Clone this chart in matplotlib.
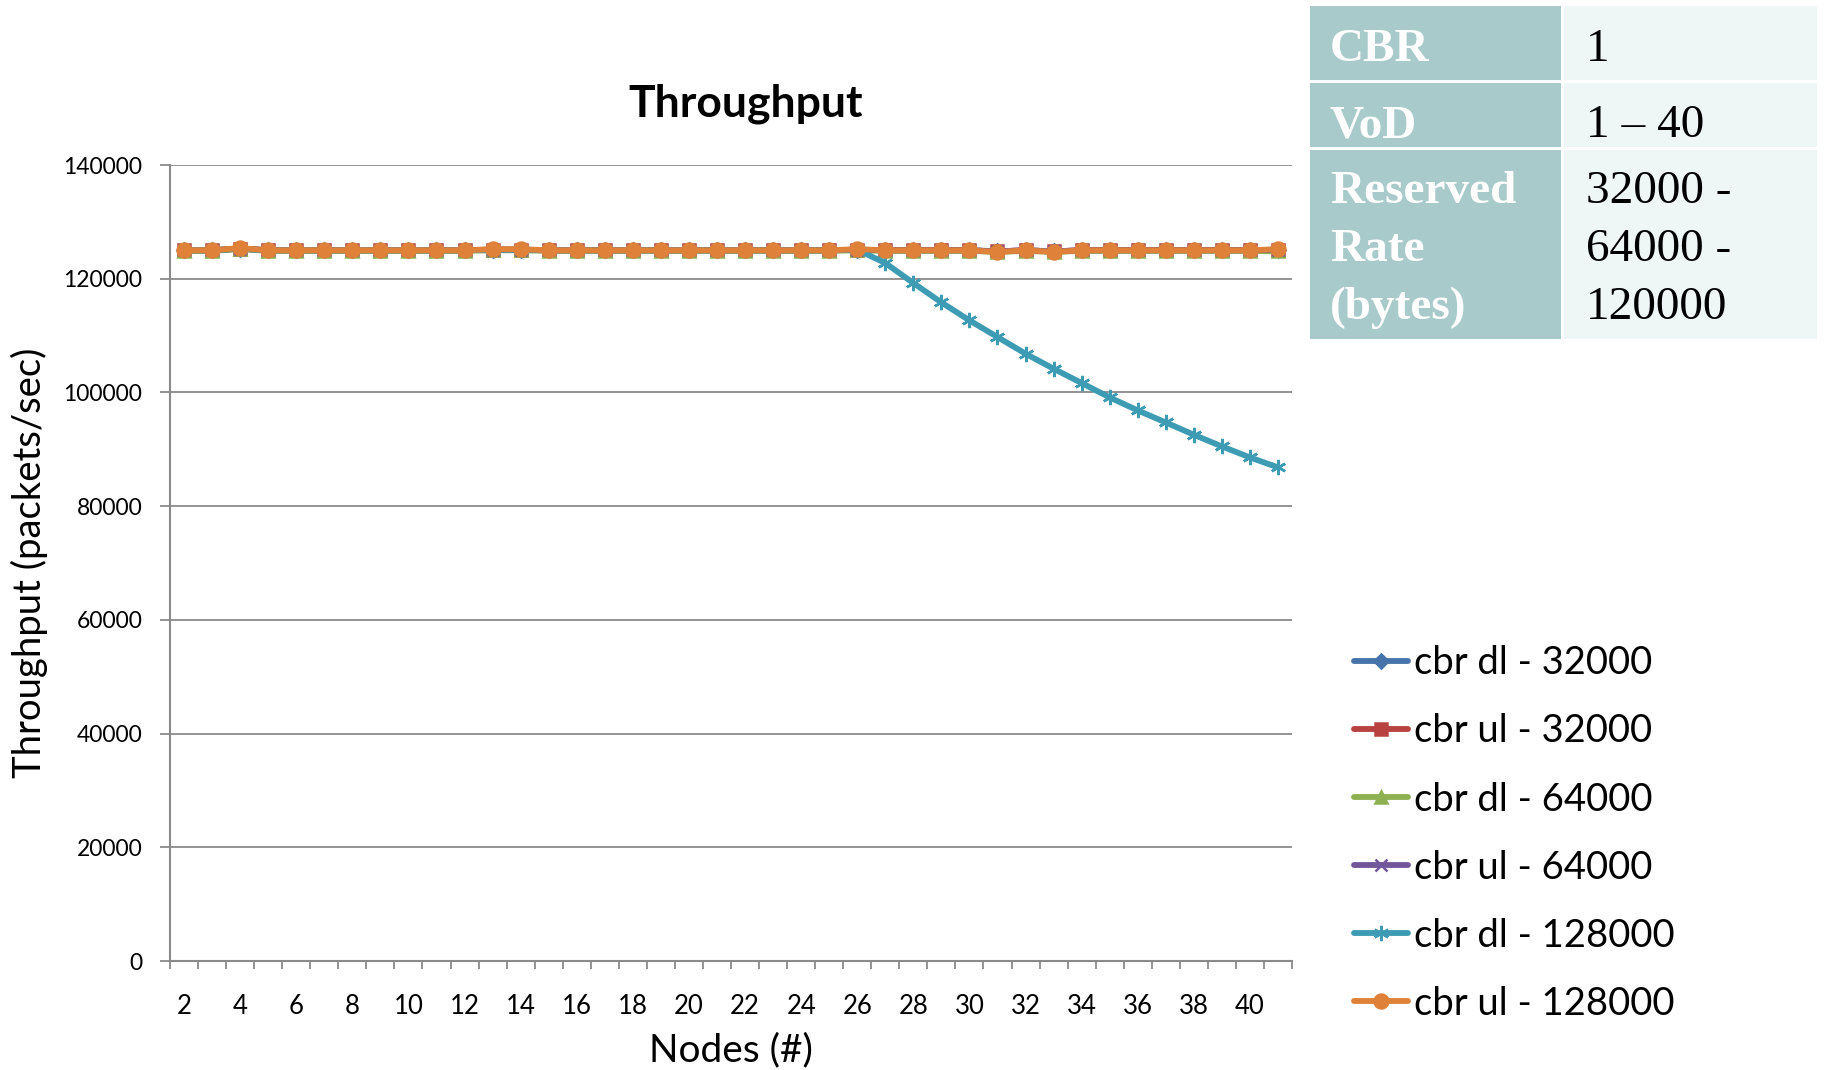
import matplotlib
matplotlib.use("Agg")
import matplotlib.pyplot as plt
from matplotlib.patches import Rectangle

# ---- data -------------------------------------------------------------
nodes = list(range(2, 42))

cbr_dl_32000 = [125000, 125000, 125300, 125000, 125000, 125000, 125000, 125000,
                125000, 125000, 125000, 125100, 125100, 125000, 125000, 125000,
                125000, 125000, 125000, 125000, 125000, 125000, 125000, 125000,
                125100, 125000, 125000, 125000, 125000, 124800, 125000, 124800,
                125000, 125000, 125000, 125000, 125000, 125000, 125000, 125100]
cbr_ul_32000 = [125000, 125000, 125300, 125000, 125000, 125000, 125000, 125000,
                125000, 125000, 125000, 125100, 125100, 125000, 125000, 125000,
                125000, 125000, 125000, 125000, 125000, 125000, 125000, 125000,
                125100, 125000, 125000, 125000, 125000, 124800, 125000, 124800,
                125000, 125000, 125000, 125000, 125000, 125000, 125000, 125100]
cbr_dl_64000 = [124900, 124900, 125200, 124900, 124900, 124900, 124900, 124900,
                124900, 124900, 124900, 125000, 125000, 124900, 124900, 124900,
                124900, 124900, 124900, 124900, 124900, 124900, 124900, 124900,
                125000, 124900, 124900, 124900, 124900, 124700, 124900, 124700,
                124900, 124900, 124900, 124900, 124900, 124900, 124900, 124800]
cbr_ul_64000 = [125000, 125000, 125300, 125000, 125000, 125000, 125000, 125000,
                125000, 125000, 125000, 125100, 125100, 125000, 125000, 125000,
                125000, 125000, 125000, 125000, 125000, 125000, 125000, 125000,
                125100, 125000, 125000, 125000, 125000, 124800, 125000, 124800,
                125000, 125000, 125000, 125000, 125000, 125000, 125000, 125100]
cbr_dl_128000 = [125000, 125000, 125300, 125000, 125000, 125000, 125000, 125000,
                 125000, 125000, 125000, 125100, 125100, 125000, 125000, 125000,
                 125000, 125000, 125000, 125000, 125000, 125000, 125000, 125000,
                 125100, 122760, 119240, 115830, 112670, 109740, 106810, 104170,
                 101650, 99120, 96830, 94720, 92560, 90500, 88570, 86810]
cbr_ul_128000 = [125000, 125000, 125400, 125000, 125000, 125000, 125000, 125000,
                 125000, 125000, 125000, 125200, 125200, 125000, 125000, 125000,
                 125000, 125000, 125000, 125000, 125000, 125000, 125000, 125000,
                 125200, 125000, 125000, 125000, 125000, 124700, 125000, 124700,
                 125000, 125000, 125000, 125000, 125000, 125000, 125000, 125200]

series_labels = ["cbr dl - 32000", "cbr ul - 32000", "cbr dl - 64000",
                 "cbr ul - 64000", "cbr dl - 128000", "cbr ul - 128000"]
series_values = [cbr_dl_32000, cbr_ul_32000, cbr_dl_64000,
                 cbr_ul_64000, cbr_dl_128000, cbr_ul_128000]

x_tick_labels = [str(n) for n in range(2, 41, 2)]
y_ticks = [0, 20000, 40000, 60000, 80000, 100000, 120000, 140000]

table_keys = [["CBR"], ["VoD"], ["Reserved", "Rate", "(bytes)"]]
table_vals = [["1"], ["1 \u2013 40"], ["32000 -", "64000 -", "120000"]]

# ---- styling ----------------------------------------------------------
colors = ["#4673AA", "#B7423F", "#8DB150", "#72579B", "#3E9BB4", "#E0813A"]
markers = ["D", "s", "^", "x", (6, 2, 0), "o"]
msizes = [7, 8, 9, 9, 11, 10]
SANS = ["Lato", "DejaVu Sans"]
GRID = "#8A8A8A"

W, H = 1825, 1070
fig = plt.figure(figsize=(W / 100, H / 100), dpi=100)

# plot area in pixel coordinates
x0, x1, ytop, ybot = 170, 1292, 165, 961
ax = fig.add_axes([x0 / W, 1 - ybot / H, (x1 - x0) / W, (ybot - ytop) / H])

for vals, lab, col, mk, ms in zip(series_values, series_labels, colors, markers, msizes):
    ax.plot(nodes, vals, color=col, lw=4.2, marker=mk, ms=ms,
            markerfacecolor=col, markeredgecolor=col, mew=1.8, label=lab,
            solid_capstyle="round")

ax.set_xlim(1.5, 41.5)
ax.set_ylim(0, 140000)
ax.set_xticks([n + 0.5 for n in range(1, 42)])
ax.set_xticklabels([])
ax.set_xticks(list(range(2, 41, 2)), minor=True)
ax.set_xticklabels(x_tick_labels, minor=True, fontsize=18.5, family=SANS)
ax.tick_params(axis="x", which="major", direction="out", length=6, width=1.3, color=GRID)
ax.tick_params(axis="x", which="minor", length=0, pad=24)

ax.set_yticks(y_ticks)
ax.set_yticklabels([str(v) for v in y_ticks], fontsize=16.5, family=SANS)
ax.tick_params(axis="y", direction="out", length=7, width=1.3, color=GRID, pad=13)

ax.grid(axis="y", color=GRID, lw=1.3)
ax.set_axisbelow(True)
for s in ["top", "right"]:
    ax.spines[s].set_visible(False)
for s in ["left", "bottom"]:
    ax.spines[s].set_color(GRID)
    ax.spines[s].set_linewidth(1.5)

fig.text(746 / W, 1 - 104 / H, "Throughput", ha="center", va="center",
         fontsize=32, fontweight="bold", family=SANS)
fig.text(731 / W, 1 - 1050 / H, "Nodes (#)", ha="center", va="center",
         fontsize=28, family=SANS)
fig.text(29 / W, 1 - 563 / H, "Throughput (packets/sec)", ha="center", va="center",
         rotation=90, fontsize=27.5, family=SANS)

leg = fig.legend(loc="upper left", bbox_to_anchor=(1320 / W, 1 - 611 / H),
                 frameon=False, handlelength=1.4, handletextpad=0.15,
                 labelspacing=0.84, numpoints=1, prop={"family": SANS, "size": 27.5})

# ---- parameter table --------------------------------------------------
tab = fig.add_axes([0, 0, 1, 1], zorder=-1)
tab.set_xlim(0, W)
tab.set_ylim(H, 0)
tab.axis("off")
row_edges = [(6, 80), (83, 147), (150, 339)]
key_col = (1310, 1561)
val_col = (1564, 1817)
key_color = "#A9CACA"
val_color = "#EFF6F6"
first_baselines = [61, 137, 203]
line_step = 58
for (r0, r1), keys, vals, bl in zip(row_edges, table_keys, table_vals, first_baselines):
    tab.add_patch(Rectangle((key_col[0], r0), key_col[1] - key_col[0], r1 - r0,
                            facecolor=key_color, edgecolor="none"))
    tab.add_patch(Rectangle((val_col[0], r0), val_col[1] - val_col[0], r1 - r0,
                            facecolor=val_color, edgecolor="none"))
    for i, k in enumerate(keys):
        tab.text(1330, bl + i * line_step, k, ha="left", va="baseline", color="white",
                 fontsize=34, fontweight="bold", family="Liberation Serif")
    for i, v in enumerate(vals):
        tab.text(1586, bl + i * line_step, v, ha="left", va="baseline", color="black",
                 fontsize=34, family="Liberation Serif")

fig.savefig("out.png", dpi=100)
